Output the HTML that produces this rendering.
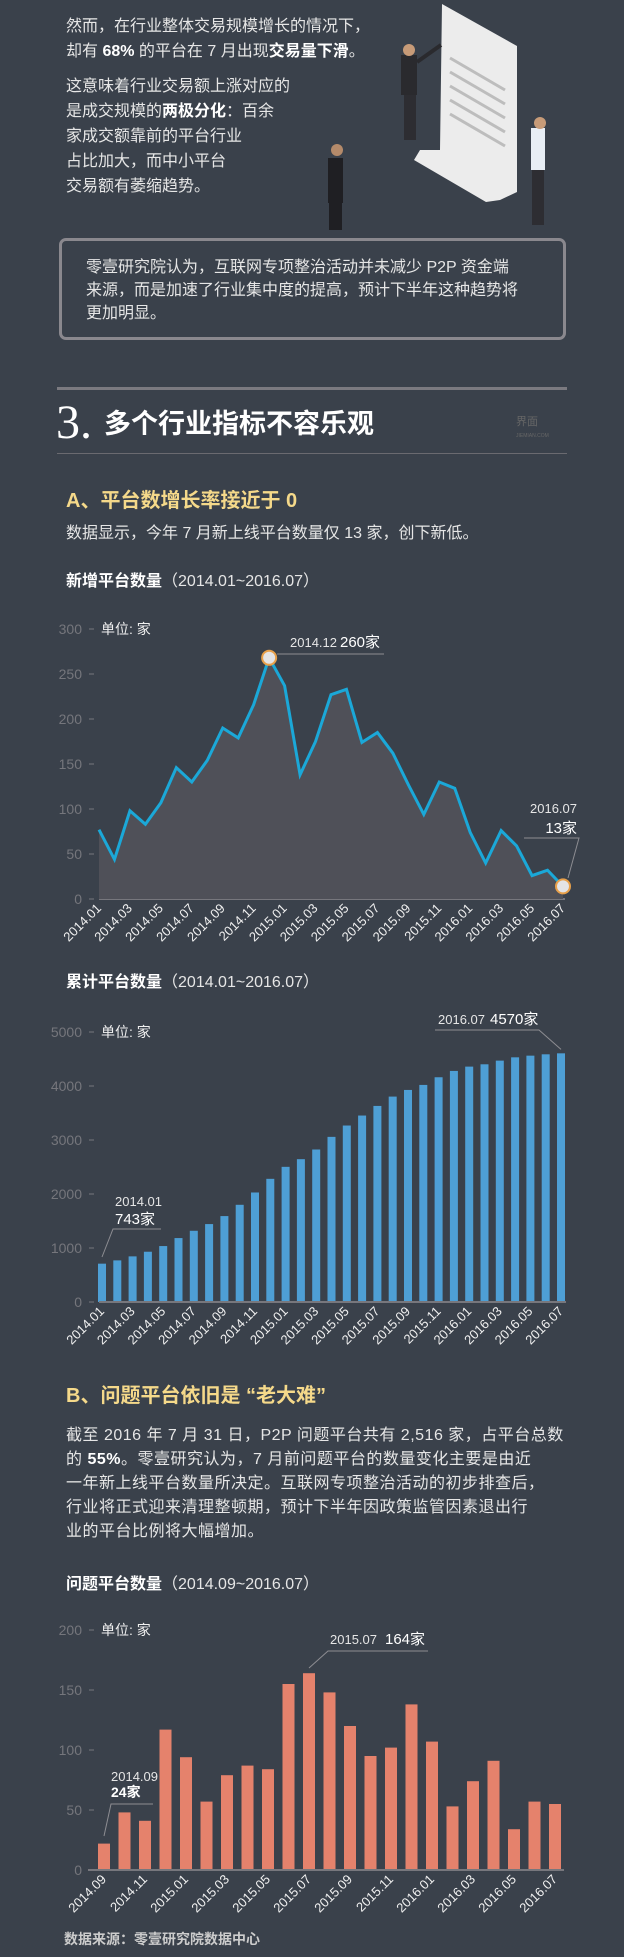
<!DOCTYPE html>
<html><head><meta charset="utf-8">
<style>
html,body{margin:0;padding:0}
body{width:624px;height:1957px;background:#3a414b;position:relative;overflow:hidden;font-family:"Liberation Sans","Noto Sans CJK SC",sans-serif;color:#e6e6e6}
.t{position:absolute;white-space:nowrap;font-size:16px;line-height:20px}
b{font-weight:bold;color:#fff}
svg text{font-family:"Liberation Sans","Noto Sans CJK SC",sans-serif}
</style></head><body>
<svg id="illus" style="position:absolute;left:0;top:0" width="624" height="230">
  <polygon points="442,4 517,46 517,192 500,200 486,202 414,160 420,150 440,150" fill="#ececec"/>
  <g stroke="#bdbdbd" stroke-width="3">
    <line x1="450" y1="58" x2="505" y2="90"/><line x1="450" y1="72" x2="505" y2="104"/><line x1="450" y1="86" x2="505" y2="118"/><line x1="450" y1="100" x2="505" y2="132"/><line x1="450" y1="114" x2="505" y2="146"/>
  </g>
  <rect x="401" y="55" width="16" height="40" fill="#2a2a2e"/><rect x="404" y="95" width="12" height="45" fill="#2d2d32"/><circle cx="409" cy="50" r="6" fill="#c79b78"/><line x1="417" y1="62" x2="441" y2="45" stroke="#2a2a2e" stroke-width="4"/>
  <rect x="531" y="128" width="14" height="42" fill="#e8eef5"/><rect x="532" y="170" width="12" height="55" fill="#2d2d32"/><circle cx="540" cy="123" r="6" fill="#c79b78"/>
  <rect x="328" y="158" width="15" height="45" fill="#1f1f23"/><rect x="329" y="203" width="13" height="35" fill="#1f1f23"/><circle cx="337" cy="150" r="6" fill="#b48a6a"/>
</svg>

<div class="t" style="left:66px;top:17px">然而，在行业整体交易规模增长的情况下，</div>
<div class="t" style="left:66px;top:42px">却有 <b>68%</b> 的平台在 7 月出现<b>交易量下滑</b>。</div>
<div class="t" style="left:66px;top:74px;line-height:25px">这意味着行业交易额上涨对应的<br>是成交规模的<b>两极分化</b>：百余<br>家成交额靠前的平台行业<br>占比加大，而中小平台<br>交易额有萎缩趋势。</div>

<div style="position:absolute;left:59px;top:238px;width:501px;height:96px;border:3px solid #8a888e;border-radius:7px"></div>
<div class="t" style="left:86px;top:256px;line-height:23px">零壹研究院认为，互联网专项整治活动并未减少 P2P 资金端<br>来源，而是加速了行业集中度的提高，预计下半年这种趋势将<br>更加明显。</div>

<div style="position:absolute;left:57px;top:387px;width:510px;height:3px;background:#7b7a80"></div>
<div class="t" style="left:56px;top:398px;font-family:'Liberation Serif',serif;font-size:48px;line-height:50px;color:#fff">3.</div>
<div class="t" style="left:104px;top:408px;font-size:27px;line-height:32px;color:#fff;font-weight:bold">多个行业指标不容乐观</div>
<div class="t" style="left:516px;top:416px;font-size:11px;color:#666;line-height:12px">界面<br><span style="font-size:5px">JIEMIAN.COM</span></div>
<div style="position:absolute;left:57px;top:453px;width:510px;height:1px;background:#6a6a70"></div>

<div class="t" style="left:66px;top:489px;font-size:20px;line-height:24px;color:#f5d98a;font-weight:bold">A、平台数增长率接近于 0</div>
<div class="t" style="left:66px;top:524px">数据显示，今年 7 月新上线平台数量仅 13 家，创下新低。</div>

<div class="t" style="left:66px;top:572px"><b>新增平台数量</b>（2014.01~2016.07）</div>
<div class="t" style="left:66px;top:973px"><b>累计平台数量</b>（2014.01~2016.07）</div>

<div class="t" style="left:66px;top:1384px;font-size:20px;line-height:24px;color:#f5d98a;font-weight:bold">B、问题平台依旧是 “老大难”</div>
<div class="t" style="left:66px;top:1424px;line-height:24px;font-size:16px;letter-spacing:0.5px">截至 2016 年 7 月 31 日，P2P 问题平台共有 2,516 家，占平台总数<br>的 <b>55%</b>。零壹研究认为，7 月前问题平台的数量变化主要是由近<br>一年新上线平台数量所决定。互联网专项整治活动的初步排查后，<br>行业将正式迎来清理整顿期，预计下半年因政策监管因素退出行<br>业的平台比例将大幅增加。</div>
<div class="t" style="left:66px;top:1575px"><b>问题平台数量</b>（2014.09~2016.07）</div>
<div class="t" style="left:64px;top:1929px;font-size:14px;color:#ccc;font-weight:bold">数据来源：零壹研究院数据中心</div>

<svg id="charts" style="position:absolute;left:0;top:0" width="624" height="1957"></svg>

<script>
// Chart 1: new platforms
const months1 = ["2014.01","2014.02","2014.03","2014.04","2014.05","2014.06","2014.07","2014.08","2014.09","2014.10","2014.11","2014.12","2015.01","2015.02","2015.03","2015.04","2015.05","2015.06","2015.07","2015.08","2015.09","2015.10","2015.11","2015.12","2016.01","2016.02","2016.03","2016.04","2016.05","2016.06","2016.07"];
const newPlatforms = [77,44,98,83,107,146,130,154,190,179,216,268,237,138,175,227,233,174,185,162,127,94,130,123,74,40,76,59,26,32,14];
const ticks1 = [0,50,100,150,200,250,300];
// Chart 2: cumulative
const cumPlatforms = [710,771,845,931,1036,1184,1319,1443,1591,1800,2028,2281,2503,2645,2824,3058,3268,3453,3631,3804,3927,4020,4162,4279,4359,4402,4470,4531,4562,4587,4605];
const ticks2 = [0,1000,2000,3000,4000,5000];
// Chart 3: problem platforms
const months3 = ["2014.09","2014.10","2014.11","2014.12","2015.01","2015.02","2015.03","2015.04","2015.05","2015.06","2015.07","2015.08","2015.09","2015.10","2015.11","2015.12","2016.01","2016.02","2016.03","2016.04","2016.05","2016.06","2016.07"];
const problemPlatforms = [22,48,41,117,94,57,79,87,84,155,164,148,120,95,102,138,107,53,74,91,34,57,55];
const ticks3 = [0,50,100,150,200];

const svg = document.getElementById('charts');
const NS = 'http://www.w3.org/2000/svg';
function mk(tag, attrs, parent){const e=document.createElementNS(NS,tag);for(const k in attrs)e.setAttribute(k,attrs[k]);(parent||svg).appendChild(e);return e;}
function txt(s, attrs, parent){const e=mk('text',attrs,parent);e.textContent=s;return e;}

function axes(g, ticks, y, x0, x1, labels, xf){
  ticks.forEach(v=>{
    const t=txt(String(v),{x:82,y:y(v)+5,'text-anchor':'end','font-size':14,fill:'#75767c'},g);
    
    
    mk('line',{x1:89,x2:94,y1:y(v),y2:y(v),stroke:'#75767c','stroke-width':1},g);
  });
  const base=mk('line',{x1:x0,x2:x1,y1:y(0),y2:y(0),stroke:'#77777d','stroke-width':2},g);
  
  
  labels.forEach((m,i)=>{
    if(i%2) return;
    const X=xf(i)+3, Y=y(0)+10;
    const t=txt(m,{x:X,y:Y,'text-anchor':'end','font-size':13,fill:'#f0f0f0',transform:`rotate(-45 ${X} ${Y})`},g);
    
    
  });
  const u=txt('单位: 家',{x:101,y:y(ticks[ticks.length-1])+5,'font-size':14,fill:'#f0f0f0'},g);
  
  
}
function ann(g, lines, poly){
  mk('polyline',{points:poly,fill:'none',stroke:'#8d8d92','stroke-width':1},g);
  lines.forEach(l=>{const t=txt(l.s,l.a,g);});
}

// ---- chart 1
(function(){
  const g=mk('g',{});
  
  
  const x=i=>99+i*(563-99)/(months1.length-1);
  const y=v=>899-v*0.9;
  axes(g,ticks1,y,99,565,months1,x);
  let d=`M${x(0)},${y(0)}`;newPlatforms.forEach((v,i)=>d+=`L${x(i)},${y(v)}`);d+=`L${x(newPlatforms.length-1)},${y(0)}Z`;
  const a=mk('path',{d:d,fill:'#4f5058'},g);
  
  
  const ln=mk('polyline',{points:newPlatforms.map((v,i)=>x(i)+','+y(v)).join(' '),fill:'none',stroke:'#1ba8d8','stroke-width':3,'stroke-linejoin':'miter'},g);
  
  
  const pk=11,last=newPlatforms.length-1;
  [pk,last].forEach(i=>{
    const c=mk('circle',{cx:x(i),cy:y(newPlatforms[i]),r:7,fill:'#e4e4e6',stroke:'#e8a04a','stroke-width':2},g);
    
    
  });
  ann(g,[{s:'2014.12',a:{x:290,y:647,'font-size':13,fill:'#e6e6e6'}},{s:'260家',a:{x:340,y:647,'font-size':15,fill:'#fff'}}],`${x(pk)+8},654 384,654`);
  ann(g,[{s:'2016.07',a:{x:577,y:813,'text-anchor':'end','font-size':13,fill:'#e6e6e6'}},{s:'13家',a:{x:577,y:833,'text-anchor':'end','font-size':15,fill:'#fff'}}],`524,838 579,838 ${x(last)+5},878`);
})();

// ---- chart 2
(function(){
  const g=mk('g',{});
  
  
  const x=i=>102+i*(561-102)/(months1.length-1);
  const y=v=>1302-v*0.054;
  cumPlatforms.forEach((v,i)=>{
    const r=mk('rect',{x:x(i)-4,y:y(v),width:8,height:y(0)-y(v),fill:'#4e9fd5'},g);
    
    
  });
  axes(g,ticks2,y,99,566,months1,x);
  ann(g,[{s:'2014.01',a:{x:115,y:1206,'font-size':13,fill:'#e6e6e6'}},{s:'743家',a:{x:115,y:1224,'font-size':15,fill:'#fff'}}],`161,1229 113,1229 ${x(0)},1257`);
  const L=cumPlatforms.length-1;
  ann(g,[{s:'2016.07',a:{x:438,y:1024,'font-size':13,fill:'#e6e6e6'}},{s:'4570家',a:{x:490,y:1024,'font-size':15,fill:'#fff'}}],`435,1030 539,1030 ${x(L)},${y(cumPlatforms[L])-4}`);
})();

// ---- chart 3
(function(){
  const g=mk('g',{});
  
  
  const x=i=>104+i*(555-104)/(months3.length-1);
  const y=v=>1870-v*1.2;
  problemPlatforms.forEach((v,i)=>{
    const r=mk('rect',{x:x(i)-6,y:y(v),width:12,height:y(0)-y(v),fill:'#e5826c'},g);
    
    
  });
  axes(g,ticks3,y,88,564,months3,x);
  ann(g,[{s:'2014.09',a:{x:111,y:1781,'font-size':13,fill:'#e6e6e6'}},{s:'24家',a:{x:111,y:1797,'font-size':14,fill:'#fff','font-weight':'bold'}}],`153,1804 111,1804 ${x(0)},1836`);
  ann(g,[{s:'2015.07',a:{x:330,y:1644,'font-size':13,fill:'#e6e6e6'}},{s:'164家',a:{x:385,y:1644,'font-size':15,fill:'#fff'}}],`428,1651 328,1651 ${x(10)},1668`);
})();
</script>
</body></html>
